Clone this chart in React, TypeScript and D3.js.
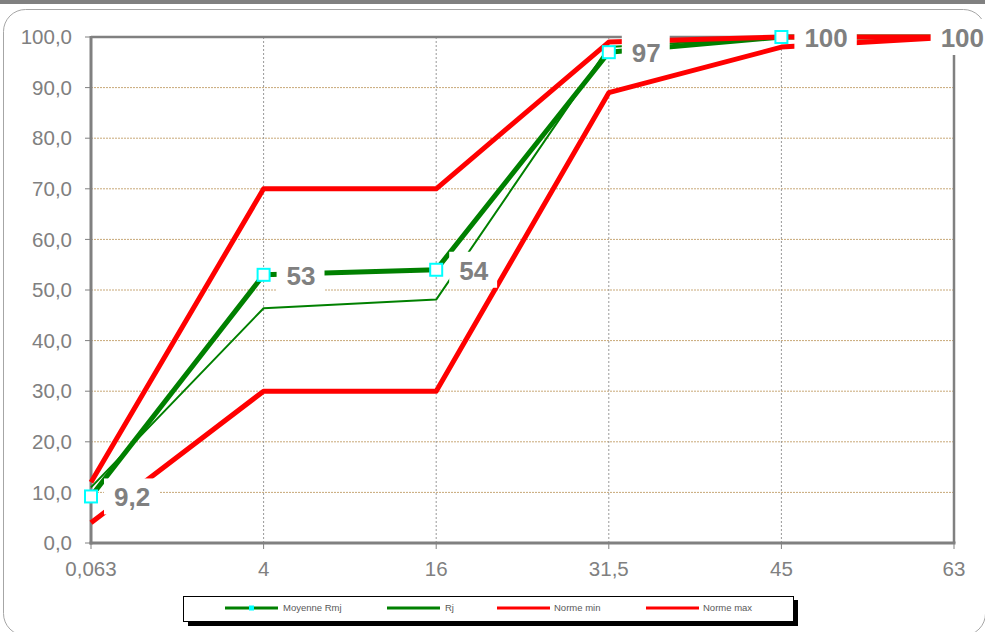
import React from "react";
import * as d3 from "d3";

const categories = ["0,063", "4", "16", "31,5", "45", "63"];
const moyenneRmj = [9.2, 53, 54, 97, 100, 100];
const moyenneLabels = ["9,2", "53", "54", "97", "100", "100"];
const rj = [11, 46.4, 48.1, 98, 100, 100];
const normeMin = [4, 30, 30, 89, 98, 100];
const normeMax = [12, 70, 70, 99, 100, 100];
const yTicks = [0, 10, 20, 30, 40, 50, 60, 70, 80, 90, 100];
const legendItems = [
  { name: "Moyenne Rmj", color: "#008000", marker: true, x: 225, tx: 283 },
  { name: "Rj", color: "#008000", marker: false, x: 387, tx: 445 },
  { name: "Norme min", color: "#ff0000", marker: false, x: 497, tx: 554 },
  { name: "Norme max", color: "#ff0000", marker: false, x: 646, tx: 703 },
];

const W = 985;
const H = 632;
const L = 91, R = 954, T = 37, B = 543;
const FONT = "'Liberation Sans', Arial, sans-serif";
const GRAY = "#808080";

function textW(s: string, size: number) {
  let w = 0;
  for (const c of s) w += c === "," ? 0.278 : 0.556;
  return w * size;
}

export default function App() {
  const x = d3.scalePoint<string>().domain(categories).range([L, R]);
  const y = d3.scaleLinear().domain([0, 100]).range([B, T]);
  const line = d3
    .line<number>()
    .x((_, i) => x(categories[i]) as number)
    .y((d) => y(d));

  const labelSize = 26;

  return (
    <svg
      width={W}
      height={H}
      style={{ position: "absolute", left: 0, top: 0, background: "#fff" }}
      fontFamily={FONT}
    >
      <rect x={0} y={0} width={W} height={H} fill="#fff" />
      <rect x={0} y={0} width={W} height={4} fill={GRAY} />
      <rect x={3.5} y={9.5} width={982} height={626} rx={22} ry={22} fill="#fff" stroke="#a6a6a6" strokeWidth={1} />

      {/* horizontal gridlines */}
      {yTicks.filter((t) => t > 0 && t < 100).map((t) => (
        <line key={"h" + t} x1={L} x2={R} y1={y(t)} y2={y(t)} stroke="#c8a878" strokeWidth={1} strokeDasharray="2,1" />
      ))}
      {/* vertical gridlines */}
      {categories.slice(1, -1).map((c) => (
        <line key={"v" + c} x1={x(c)} x2={x(c)} y1={T} y2={B} stroke="#999" strokeWidth={1} strokeDasharray="2,2" />
      ))}

      {/* frame */}
      <line x1={L} x2={R} y1={T} y2={T} stroke={GRAY} strokeWidth={2.5} />
      <line x1={R} x2={R} y1={T} y2={B} stroke={GRAY} strokeWidth={2.5} />
      <line x1={L} x2={L} y1={T - 1} y2={B + 1.5} stroke={GRAY} strokeWidth={3} />
      <line x1={L - 1.5} x2={R + 1.5} y1={B} y2={B} stroke={GRAY} strokeWidth={3} />

      {/* y ticks */}
      {yTicks.map((t) => (
        <g key={"yt" + t}>
          <line x1={L - 6} x2={L} y1={y(t)} y2={y(t)} stroke={GRAY} strokeWidth={1} />
          <text x={72} y={y(t)} dy="0.35em" textAnchor="end" fontSize={20.5} fill={GRAY}>
            {t.toFixed(1).replace(".", ",")}
          </text>
        </g>
      ))}
      {/* x ticks */}
      {categories.map((c) => (
        <g key={"xt" + c}>
          <line x1={x(c)} x2={x(c)} y1={B} y2={B + 6} stroke={GRAY} strokeWidth={1} />
          <text x={x(c)} y={569} dy="0.35em" textAnchor="middle" fontSize={20.5} fill={GRAY}>
            {c}
          </text>
        </g>
      ))}

      {/* series */}
      <path d={line(moyenneRmj) || ""} fill="none" stroke="#008000" strokeWidth={5} strokeLinejoin="round" />
      <path d={line(rj) || ""} fill="none" stroke="#008000" strokeWidth={2} strokeLinejoin="round" />
      <path d={line(normeMin) || ""} fill="none" stroke="#ff0000" strokeWidth={5} strokeLinejoin="round" />
      <path d={line(normeMax) || ""} fill="none" stroke="#ff0000" strokeWidth={5} strokeLinejoin="round" />

      {/* markers */}
      {moyenneRmj.map((v, i) => (
        <rect
          key={"m" + i}
          x={(x(categories[i]) as number) - 6}
          y={y(v) - 6}
          width={12}
          height={12}
          fill="#fff"
          stroke="#00ffff"
          strokeWidth={2}
        />
      ))}

      {/* data labels */}
      {moyenneRmj.map((v, i) => {
        const px = x(categories[i]) as number;
        const py = y(v);
        const s = moyenneLabels[i];
        const tw = textW(s, labelSize);
        const boxW = tw + 19;
        const bx = Math.min(px + 13, 993 - boxW);
        return (
          <g key={"l" + i}>
            <rect x={bx} y={py - 18} width={boxW} height={36} fill="#fff" />
            <text x={bx + 10} y={py + 10} fontSize={labelSize} fontWeight="bold" fill={GRAY}>
              {s}
            </text>
          </g>
        );
      })}

      {/* legend */}
      <rect x={188} y={600} width={610} height={26} fill="#000" />
      <rect x={183.5} y={596.5} width={610} height={25} fill="#fff" stroke="#000" strokeWidth={1} />
      {legendItems.map((it) => (
        <g key={it.name}>
          <line x1={it.x} x2={it.x + 53} y1={608} y2={608} stroke={it.color} strokeWidth={3} />
          {it.marker && <rect x={it.x + 24} y={605.5} width={5} height={5} fill="#00ffff" />}
          <text x={it.tx} y={608} dy="0.35em" fontSize={9.5} fill="#595959">
            {it.name}
          </text>
        </g>
      ))}
    </svg>
  );
}
